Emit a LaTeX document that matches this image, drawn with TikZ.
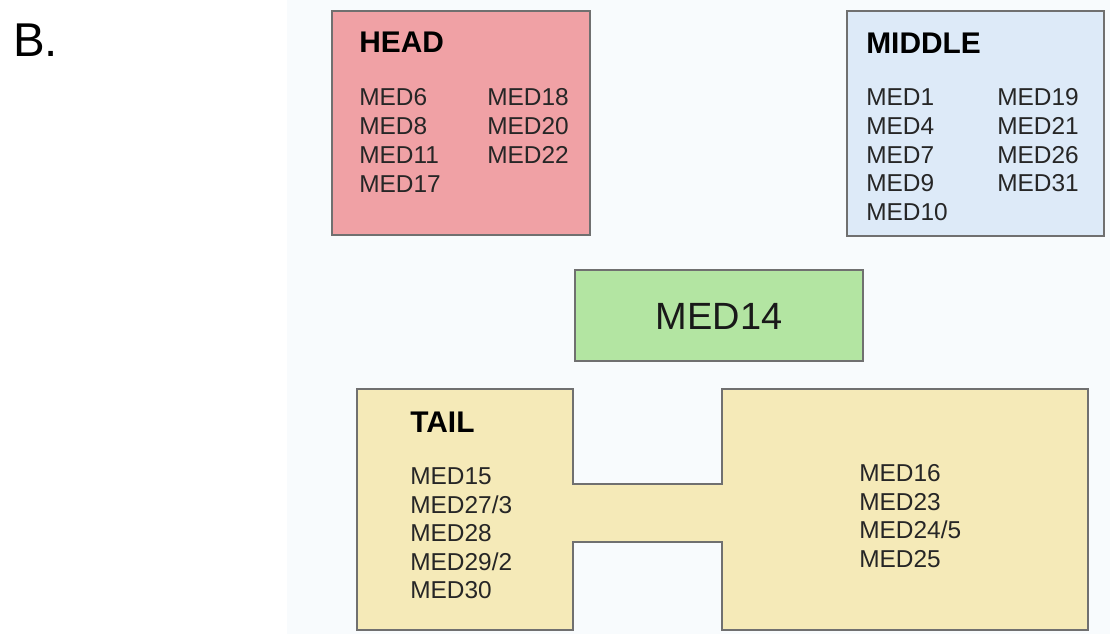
\documentclass[tikz,border=0pt]{standalone}
\usepackage{fontspec}
\setmainfont{Liberation Sans}
\usepackage{tikz}
\definecolor{panelbg}{HTML}{F8FBFD}
\definecolor{headfill}{HTML}{F0A1A5}
\definecolor{midfill}{HTML}{DDEAF8}
\definecolor{coremed}{HTML}{B3E5A2}
\definecolor{tailfill}{HTML}{F5EAB8}
\definecolor{edge}{HTML}{707070}
\tikzset{
  module/.style={draw=edge, line width=0.8pt, line join=miter},
  modtitle/.style={anchor=base west, inner sep=0pt, font=\fontsize{17}{20}\selectfont\bfseries},
  item/.style={anchor=base west, inner sep=0pt, font=\fontsize{13.9}{16}\selectfont, text=black!85},
  corelabel/.style={inner sep=0pt, font=\fontsize{21.6}{25}\selectfont, text=black!90},
  panellabel/.style={anchor=base west, inner sep=0pt, font=\fontsize{27}{30}\selectfont},
}

\begin{document}
\begin{tikzpicture}[x=0.02cm, y=-0.02cm]
\useasboundingbox (0,0) rectangle (1110,634);
\fill[white] (0,0) rectangle (1110,634);
\fill[panelbg] (287,0) rectangle (1110,634);
\node[panellabel] (lblB) at (13,57) {B.};
% head module
\draw[module, fill=headfill] (332,11) rectangle (590,235);
\node[modtitle] (headT) at (359,53) {HEAD};
\foreach \t [count=\i] in {MED6,MED8,MED11,MED17}
  \node[item] (headA\i) at (359,{106+29*(\i-1)}) {\t};
\foreach \t [count=\i] in {MED18,MED20,MED22}
  \node[item] (headB\i) at (487,{106+29*(\i-1)}) {\t};
% middle module
\draw[module, fill=midfill] (847,11) rectangle (1104,236);
\node[modtitle] (midT) at (866,54) {MIDDLE};
\foreach \t [count=\i] in {MED1,MED4,MED7,MED9,MED10}
  \node[item] (midA\i) at (866,{106+28.6*(\i-1)}) {\t};
\foreach \t [count=\i] in {MED19,MED21,MED26,MED31}
  \node[item] (midB\i) at (997,{106+28.6*(\i-1)}) {\t};
% med14
\draw[module, fill=coremed] (575,270) rectangle (863,361);
\node[corelabel] (core) at (719,316) {MED14};
% tail module
\draw[module, fill=tailfill] (357,389) -- (573,389) -- (573,484) -- (722,484)
  -- (722,389) -- (1088,389) -- (1088,630) -- (722,630) -- (722,542)
  -- (573,542) -- (573,630) -- (357,630) -- cycle;
\node[modtitle] (tailT) at (410,433) {TAIL};
\foreach \t [count=\i] in {MED15,MED27/3,MED28,MED29/2,MED30}
  \node[item] (tailA\i) at (410,{485+28.4*(\i-1)}) {\t};
\foreach \t [count=\i] in {MED16,MED23,MED24/5,MED25}
  \node[item] (tailB\i) at (859,{482+28.4*(\i-1)}) {\t};
\end{tikzpicture}
\end{document}
